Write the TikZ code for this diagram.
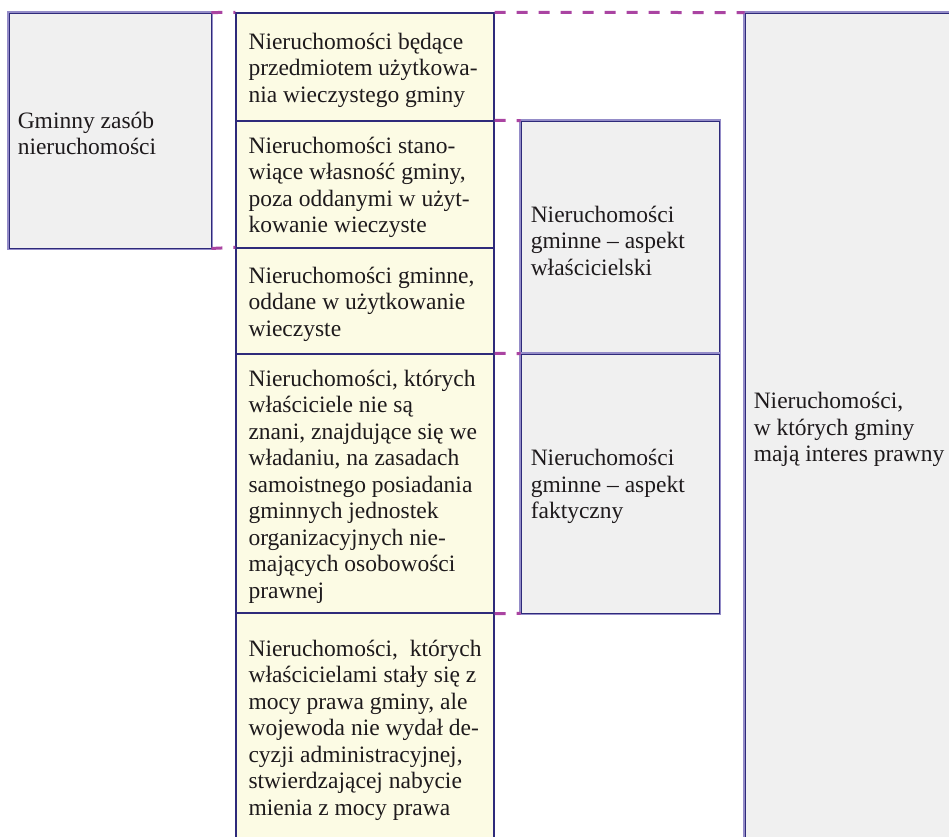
\documentclass[tikz,border=0pt]{standalone}
\usepackage{fontspec}
\setmainfont{Liberation Serif}
\definecolor{navy}{HTML}{2E2A7A}
\definecolor{lpurp}{HTML}{948CC8}
\definecolor{greyfill}{HTML}{F0F0F0}
\definecolor{yel}{HTML}{FCFBE4}
\definecolor{mag}{HTML}{AA44A2}
\definecolor{ink}{HTML}{1E1A1C}
\tikzset{
  greybox/.style={rectangle, fill=greyfill, draw=navy, line width=0.9pt,
    preaction={draw=lpurp, line width=3.2pt}, inner sep=0pt},
  yelbox/.style={rectangle, fill=yel, draw=navy, line width=1.3pt, inner sep=0pt},
  txt/.style={align=left, inner sep=0pt, anchor=west, text=ink,
    font=\fontsize{23.5pt}{26.5pt}\selectfont},
  link/.style={draw=mag, line width=3pt, dash pattern=on 11pt off 11pt},
}
\begin{document}
\begin{tikzpicture}[x=1pt,y=-1pt]
\useasboundingbox (0,0) rectangle (949,836);
\clip (0,0) rectangle (949,836);
% boxes
\node[greybox, minimum width=202pt, minimum height=235pt] (L) at (110,130.5) {};
\node[yelbox, minimum width=258pt, minimum height=108pt] (m1) at (365,67) {};
\node[yelbox, minimum width=258pt, minimum height=127pt] (m2) at (365,184.5) {};
\node[yelbox, minimum width=258pt, minimum height=106pt] (m3) at (365,301) {};
\node[yelbox, minimum width=258pt, minimum height=259pt] (m4) at (365,483.5) {};
\node[yelbox, minimum width=258pt, minimum height=228pt] (m5) at (365,727) {};
\node[greybox, minimum width=198pt, minimum height=233pt] (r1) at (620,237.5) {};
\node[greybox, minimum width=198pt, minimum height=259pt] (r2) at (620,483.5) {};
\node[greybox, minimum width=240pt, minimum height=827pt] (R) at (865,426.5) {};
% dashed connectors
\draw[link] (L.north east) -- (m1.north west);
\draw[link] (L.south east) -- (m3.north west);
\draw[link] (m1.north east) -- (R.north west);
\draw[link] (m2.north east) -- (r1.north west);
\draw[link] (m4.north east) -- (r2.north west);
\draw[link] (m4.south east) -- (r2.south west);
% texts
\begin{scope}[every node/.append style={yshift=-3pt}]
\node[txt] (tL) at ([xshift=9pt]L.west) {Gminny zasób\\nieruchomości};
\node[txt] (t1) at ([xshift=13pt]m1.west) {Nieruchomości będące\\przedmiotem użytkowa-\\nia wieczystego gminy};
\node[txt] (t2) at ([xshift=13pt]m2.west) {Nieruchomości stano-\\wiące własność gminy,\\poza oddanymi w użyt-\\kowanie wieczyste};
\node[txt] (t3) at ([xshift=13pt]m3.west) {Nieruchomości gminne,\\oddane w użytkowanie\\wieczyste};
\node[txt] (t4) at ([xshift=13pt]m4.west) {Nieruchomości, których\\właściciele nie są\\znani, znajdujące się we\\władaniu, na zasadach\\samoistnego posiadania\\gminnych jednostek\\organizacyjnych nie-\\mających osobowości\\prawnej};
\node[txt] (t5) at ([xshift=13pt]m5.west) {Nieruchomości,\ \ których\\właścicielami stały się z\\mocy prawa gminy, ale\\wojewoda nie wydał de-\\cyzji administracyjnej,\\stwierdzającej nabycie\\mienia z mocy prawa};
\node[txt] (tr1) at ([xshift=10pt]r1.west) {Nieruchomości\\gminne – aspekt\\właścicielski};
\node[txt] (tr2) at ([xshift=10pt]r2.west) {Nieruchomości\\gminne – aspekt\\faktyczny};
\node[txt] (tR) at ([xshift=9pt]R.west) {Nieruchomości,\\w których gminy\\mają interes prawny};
\end{scope}
\end{tikzpicture}
\end{document}
